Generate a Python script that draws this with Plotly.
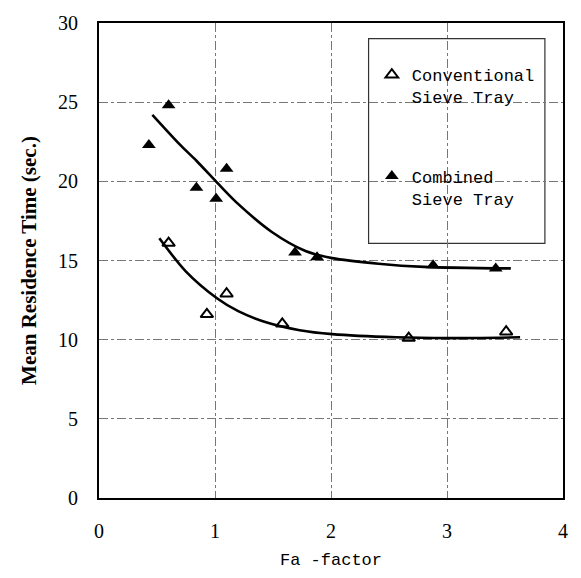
import plotly.graph_objects as go

conv_x = [0.60, 0.93, 1.10, 1.58, 2.67, 3.51]
conv_y = [16.1, 11.6, 12.9, 11.0, 10.1, 10.5]
comb_x = [0.43, 0.60, 0.84, 1.01, 1.10, 1.69, 1.88, 2.88, 3.42]
comb_y = [22.3, 24.8, 19.6, 18.9, 20.8, 15.5, 15.2, 14.7, 14.5]

# Smooth fitted curves
conv_fit_x = [0.52, 0.75, 1.02, 1.20, 1.44, 1.73, 2.01, 2.56, 3.00, 3.63]
conv_fit_y = [16.4, 14.3, 12.6, 11.8, 11.1, 10.6, 10.35, 10.15, 10.1, 10.15]
comb_fit_x = [0.46, 0.70, 0.84, 1.02, 1.18, 1.49, 1.78, 2.01, 2.41, 2.80, 3.55]
comb_fit_y = [24.2, 22.3, 21.3, 19.9, 18.7, 16.8, 15.6, 15.15, 14.8, 14.6, 14.5]

x_ticks = [0, 1, 2, 3, 4]
y_ticks = [0, 5, 10, 15, 20, 25, 30]

fig = go.Figure()
fig.add_trace(go.Scatter(x=conv_fit_x, y=conv_fit_y, mode="lines",
                         line=dict(color="black", width=2.6, shape="spline", smoothing=0.8),
                         showlegend=False, hoverinfo="skip"))
fig.add_trace(go.Scatter(x=comb_fit_x, y=comb_fit_y, mode="lines",
                         line=dict(color="black", width=2.6, shape="spline", smoothing=0.8),
                         showlegend=False, hoverinfo="skip"))
fig.add_trace(go.Scatter(x=conv_x, y=conv_y, mode="markers",
                         name="Conventional<br>Sieve Tray", legendgroup="a",
                         marker=dict(symbol="triangle-up-open", size=11, color="black",
                                     line=dict(color="black", width=2))))
fig.add_trace(go.Scatter(x=comb_x, y=comb_y, mode="markers",
                         name="Combined<br>Sieve Tray", legendgroup="b",
                         marker=dict(symbol="triangle-up", size=12, color="black")))

fig.add_shape(type="rect", xref="paper", yref="paper",
              x0=0.581, x1=0.961, y0=0.536, y1=0.967,
              line=dict(color="#333", width=1.2), fillcolor="white", layer="below")

fig.update_layout(
    width=581, height=578,
    margin=dict(l=99, r=18, t=19, b=78),
    paper_bgcolor="white", plot_bgcolor="white",
    font=dict(family="Liberation Serif", color="black"),
    showlegend=True,
    legend=dict(x=0.588, y=0.928, xanchor="left", yanchor="top",
                bgcolor="rgba(0,0,0,0)", borderwidth=0,
                traceorder="grouped", tracegroupgap=54, valign="top",
                font=dict(family="Liberation Mono", size=17, color="black")),
    xaxis=dict(range=[0, 4], tickvals=x_ticks, ticks="", showline=True, linecolor="black",
               linewidth=2, mirror=True, showgrid=True, gridcolor="#777", griddash="dashdot",
               gridwidth=1, zeroline=False, tickfont=dict(family="Liberation Serif", size=20),
               ticklabelstandoff=14,
               title=dict(text="Fa -factor", font=dict(family="Liberation Mono", size=17), standoff=12)),
    yaxis=dict(range=[0, 30], tickvals=y_ticks, ticks="", showline=True, linecolor="black",
               linewidth=2, mirror=True, showgrid=True, gridcolor="#777", griddash="dashdot",
               gridwidth=1, zeroline=False, tickfont=dict(family="Liberation Serif", size=20),
               ticklabelstandoff=15,
               title=dict(text="<b>Mean Residence Time (sec.)</b>",
                          font=dict(family="Liberation Serif", size=21), standoff=16)),
)

fig.write_html("out.html")
